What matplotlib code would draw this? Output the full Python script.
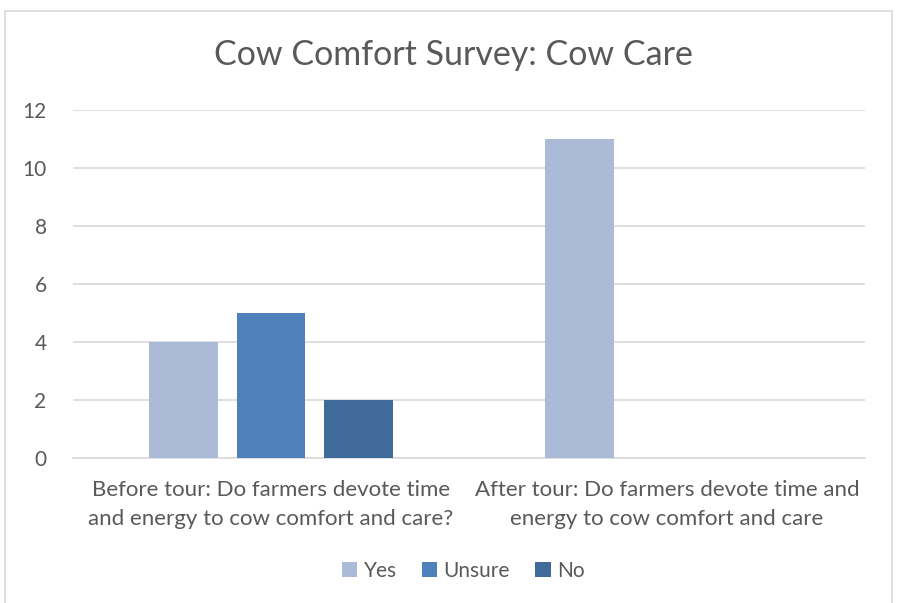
import numpy as np
import matplotlib.pyplot as plt
from matplotlib.patches import Rectangle

categories = ['Before tour: Do farmers devote time\nand energy to cow comfort and care?',
              'After tour: Do farmers devote time and\nenergy to cow comfort and care']
series = ['Yes', 'Unsure', 'No']
yes = [4, 11]
unsure = [5, 0]
no = [2, 0]
colors = ['#ABBAD7', '#4E80BB', '#3F6A9A']

plt.rcParams['font.family'] = ['Lato', 'DejaVu Sans']

fig = plt.figure(figsize=(8.98, 6.03), dpi=100)
W, H = 898, 603
ax = fig.add_axes([73 / W, 1 - 458 / H, (865 - 73) / W, (458 - 110) / H])

# outer chart frame
fig.patches.append(Rectangle((5 / W, -0.05), 887 / W, 1.05 - 11 / H, transform=fig.transFigure,
                             fill=False, edgecolor='#D9D9D9', linewidth=1.2))

x = np.arange(len(categories))
width = 0.174
step = 0.22
for i, (name, vals) in enumerate(zip(series, [yes, unsure, no])):
    ax.bar(x + (i - 1) * step, vals, width, color=colors[i], label=name, zorder=3)

ax.set_xlim(-0.5, 1.5)
ax.set_ylim(0, 12)
ax.set_yticks(range(0, 13, 2))
ax.yaxis.grid(True, color='#D9D9D9', linewidth=1.2, zorder=0)
for s in ['top', 'right', 'left']:
    ax.spines[s].set_visible(False)
ax.spines['bottom'].set_color('#D9D9D9')
ax.spines['bottom'].set_linewidth(1.2)
ax.tick_params(axis='both', length=0, colors='#595959')
ax.tick_params(axis='y', pad=19, labelsize=15)
ax.tick_params(axis='x', pad=16, labelsize=16)
ax.set_xticks(x)
ax.set_xticklabels(categories, linespacing=1.55)

fig.text(453 / W, 1 - 55 / H, 'Cow Comfort Survey: Cow Care', ha='center', va='center',
         fontsize=24.5, color='#595959')

leg = fig.legend(loc='center', bbox_to_anchor=(463 / W, 1 - 571 / H), ncol=3, frameon=False,
                 fontsize=15, handlelength=0.75, handleheight=0.75, handletextpad=0.3,
                 columnspacing=1.2, labelcolor='#595959')

fig.savefig('out.png', dpi=100)
